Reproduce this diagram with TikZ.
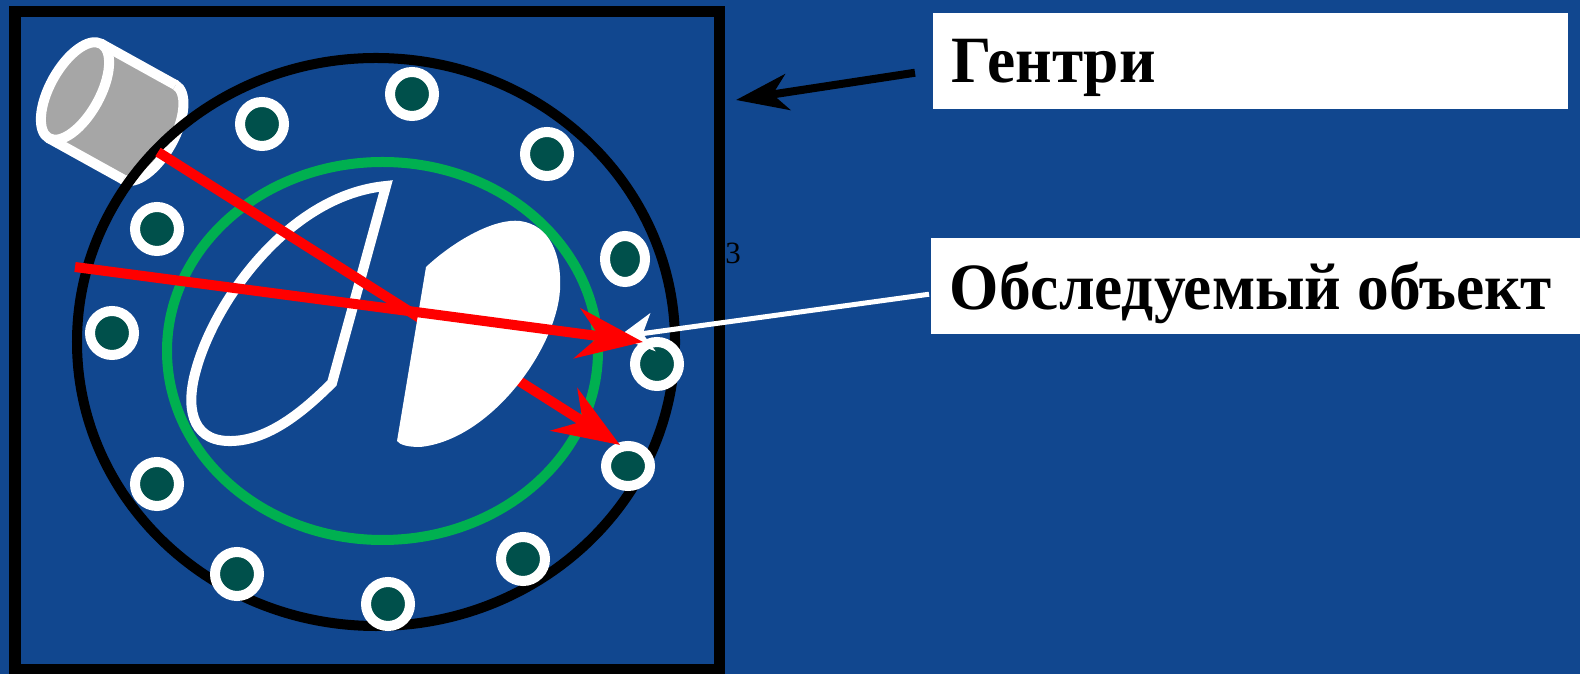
\documentclass[tikz,border=0pt]{standalone}
\usepackage{fontspec}
\usepackage{graphicx}
\setmainfont{Liberation Serif}
\usetikzlibrary{arrows.meta, calc}
\definecolor{cbg}{HTML}{11478F}
\definecolor{cdet}{HTML}{00504B}
\definecolor{cgreen}{HTML}{00B050}
\definecolor{cred}{HTML}{FF0000}
\definecolor{ctube}{HTML}{A6A6A6}
\newcommand{\tagtext}[2]{\makebox[#1][l]{\scalebox{0.96}[1]{#2}}}
\tikzset{
  tag/.style={fill=white, anchor=north west, inner xsep=0.19cm, inner ysep=0pt, text depth=0pt, minimum height=0.96cm, font=\fontsize{18.8}{20}\selectfont\bfseries},
  ray/.style={draw=cred, line width=0.1cm, -{Stealth[length=0.66cm, width=0.5cm, inset=0.22cm]}},
  pointer/.style={draw=#1, line width=0.08cm, -{Stealth[length=0.52cm, width=0.36cm, inset=0.15cm]}},
  pointer/.default=black,
  detector/.style={fill=cdet, draw=white, line width=0.1cm},
}

\begin{document}
\begin{tikzpicture}[x=0.01cm, y=-0.01cm,
  tube/.style={fill=ctube, draw=white, line width=0.1cm},
  body/.style={draw=white, line width=0.1cm}]
  \useasboundingbox (0,0) rectangle (1580,674);
  \fill[cbg] (0,0) rectangle (1580,674);
  \draw[line width=0.11cm] (15,12) rectangle (719,670);
  % x-ray tube
  \begin{scope}[shift={(75,91)}, rotate=-29]
    \filldraw[tube] (85,0) ellipse [x radius=25, y radius=54];
    \fill[ctube] (0,-54) rectangle (85,54);
    \draw[body] (0,-54) -- (85,-54) (0,54) -- (85,54);
    \filldraw[tube] (0,0) ellipse [x radius=25, y radius=54];
  \end{scope}
  \coordinate (src) at (158,152);
  \draw[line width=0.1cm] (376,342) ellipse [x radius=299, y radius=284];
  \draw[cgreen, line width=0.1cm] (382.5,351) ellipse [x radius=215.5, y radius=189];
  \foreach \dx/\dy/\rx/\ry in {412/94/22/22, 262/124/22/22, 547/154/22/22, 157/229/22/22,
      625/259/20/23, 112/333/22/22, 657/364/22/22, 628/466/22/20, 157/484/22/22,
      237/574/22/22, 523/559/22/22, 388/604/22/22}
    \filldraw[detector] (\dx,\dy) ellipse [x radius=\rx, y radius=\ry];
  % hollow and solid bodies
  \draw[body] (386,186) -- (332,383) .. controls (300,415) and (265,442) .. (228,441)
    .. controls (190,440) and (186,405) .. (196,370)
    .. controls (215,300) and (290,195) .. (386,186) -- cycle;
  \coordinate (hitA) at (620,445);
  \draw[ray] (src) -- (hitA);
  \fill[white] (397,441) -- (426,267) .. controls (455,240) and (495,218) .. (520,221)
    .. controls (550,225) and (562,255) .. (560,290)
    .. controls (556,350) and (490,440) .. (420,447)
    .. controls (408,447) and (400,445) .. (397,441) -- cycle;
  % labels
  \node[tag] (gentri) at (932,12) {\tagtext{5.97cm}{Гентри}};
  \node[tag] (object) at (930,237) {\tagtext{6.12cm}{Обследуемый объект}};
  \coordinate (objtip) at (618,337);
  \coordinate (gantrytip) at (736,100);
  \draw[draw=white, line width=0.05cm, -{Stealth[length=0.35cm, width=0.38cm, inset=0.1cm]}]
    ([xshift=-0.01cm, yshift=-0.085cm]object.west) -- (objtip);
  \coordinate (leftB) at (75,267);
  \coordinate (hitB) at (643,342);
  \draw[ray] (leftB) -- (hitB);
  \draw[pointer] ([xshift=-0.17cm, yshift=-0.12cm]gentri.west) -- (gantrytip);
  \node[font=\fontsize{8.8}{10}\selectfont] (pagenum) at (733,253) {3};
\end{tikzpicture}
\end{document}
